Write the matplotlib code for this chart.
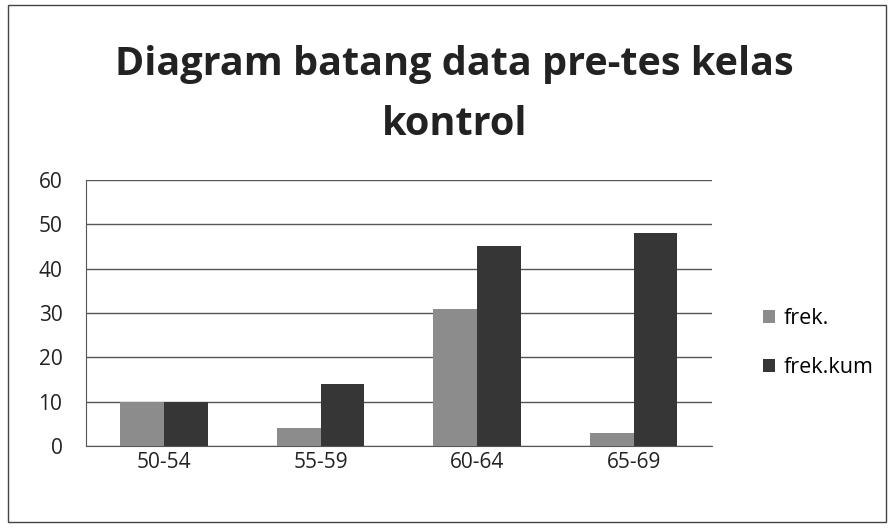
import matplotlib
matplotlib.use("Agg")
import matplotlib.pyplot as plt
import numpy as np
from matplotlib.patches import Rectangle

categories = ["50-54", "55-59", "60-64", "65-69"]
frek = [10, 4, 31, 3]
frek_kum = [10, 14, 45, 48]
yticks = [0, 10, 20, 30, 40, 50, 60]
title = "Diagram batang data pre-tes kelas\nkontrol"

plt.rcParams['font.family'] = ['Open Sans', 'DejaVu Sans']

fig = plt.figure(figsize=(8.94, 5.30), dpi=100)
ax = fig.add_axes([0.0962, 0.1585, 0.7, 0.5019])

x = np.arange(len(categories))
w = 0.28
ax.bar(x - w/2, frek, width=w, color="#8c8c8c", label="frek.", zorder=3)
ax.bar(x + w/2, frek_kum, width=w, color="#363636", label="frek.kum", zorder=3)

ax.set_xlim(-0.5, 3.5)
ax.set_ylim(0, 60)
ax.set_yticks(yticks)
ax.set_xticks(x)
ax.set_xticklabels(categories)
ax.yaxis.grid(True, color="#555555", linewidth=1.0, zorder=0)
for s in ["top", "right"]:
    ax.spines[s].set_visible(False)
ax.spines["left"].set_color("#555555")
ax.spines["bottom"].set_color("#555555")
ax.tick_params(axis="both", length=0, labelsize=15, colors="#222222")
ax.tick_params(axis="x", pad=4)
ax.tick_params(axis="y", pad=17)

fig.text(0.508, 0.822, title, ha="center", va="center", fontsize=28.5, fontweight="bold",
         color="#222222", linespacing=1.7)

fig.legend(loc="center left", bbox_to_anchor=(0.832, 0.353), frameon=False, fontsize=15.5,
           handlelength=0.55, handleheight=0.55, handletextpad=0.4, labelspacing=1.3)

fig.patches.append(Rectangle((0.009, 0.015), 0.982, 0.975, transform=fig.transFigure,
                             fill=False, edgecolor="#444444", linewidth=1.0))

fig.savefig("out.png", dpi=100)
